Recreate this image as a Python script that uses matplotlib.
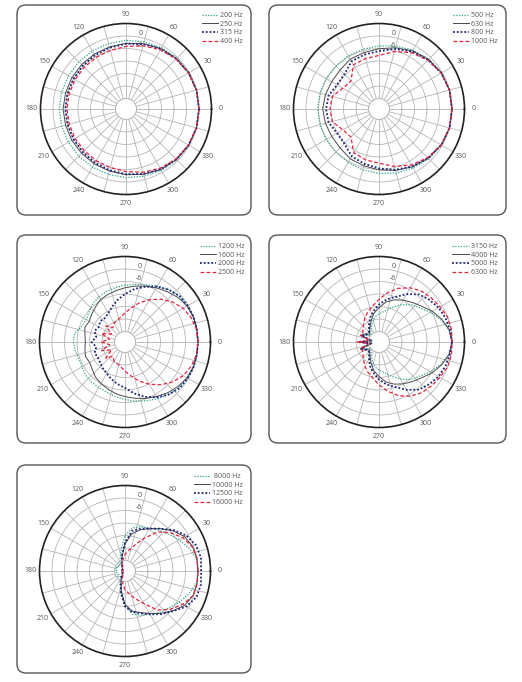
import numpy as np
import matplotlib
matplotlib.use("Agg")
import matplotlib.pyplot as plt
from matplotlib.patches import FancyBboxPatch

plt.rcParams['font.family'] = ['Open Sans', 'DejaVu Sans']

W, H = 522, 682
R = 85.5  # polar radius in px

# --- DATA (dB, normalised to 0 dB on axis) ---
ANGLES_15 = list(range(0, 360, 15))
ANGLES_10 = list(range(0, 360, 10))

# panel 1
P1_LABELS = ["200 Hz", "250 Hz", "315 Hz", "400 Hz"]
P1_200 = [0, 0, -0.2, -0.5, -1.0, -1.6, -2.1, -2.5, -2.8, -3.0, -3.1, -3.1,
          -3.0, -3.1, -3.1, -3.0, -2.8, -2.5, -2.1, -1.6, -1.0, -0.5, -0.2, 0]
P1_250 = [0, 0, -0.3, -0.8, -1.5, -2.6, -3.5, -4.2, -4.6, -4.9, -5.0, -5.0,
          -4.8, -5.0, -5.0, -4.9, -4.6, -4.2, -3.5, -2.6, -1.5, -0.8, -0.3, 0]
P1_315 = [0, 0, -0.3, -0.9, -1.7, -2.8, -3.7, -4.6, -5.2, -5.7, -6.0, -6.0,
          -5.9, -6.0, -6.0, -5.7, -5.2, -4.6, -3.7, -2.8, -1.7, -0.9, -0.3, 0]
P1_400 = [0, 0, -0.4, -1.1, -2.2, -3.6, -5.0, -5.9, -6.4, -6.7, -6.8, -6.8,
          -6.7, -6.8, -6.8, -6.7, -6.4, -5.9, -5.0, -3.6, -2.2, -1.1, -0.4, 0]

# panel 2
P2_LABELS = ["500 Hz", "630 Hz", "800 Hz", "1000 Hz"]
P2_500 = [0, 0, -0.3, -1.2, -2.4, -3.8, -4.8, -5.3, -5.6, -5.8, -5.8, -5.7,
          -5.6, -5.7, -5.8, -5.7, -5.4, -4.8, -4.1, -3.2, -2.3, -1.3, -0.4, 0]
P2_630 = [0, 0, -0.4, -1.4, -2.8, -4.6, -6.1, -7.0, -7.4, -8.6, -8.8, -8.4,
          -8.0, -8.4, -8.8, -8.6, -7.4, -6.8, -5.8, -4.5, -3.0, -1.6, -0.5, 0]
P2_800 = [0, 0, -0.5, -1.6, -3.2, -5.2, -7.2, -8.0, -8.6, -11.5, -11.8, -10.0,
          -9.6, -10.0, -11.8, -11.5, -8.8, -7.8, -6.5, -4.8, -3.2, -1.7, -0.5, 0]
P2_1000 = [0, 0, -0.6, -1.9, -3.8, -6.5, -9.3, -10.0, -10.5, -16.0, -15.0, -11.8,
           -11.5, -11.8, -15.0, -16.0, -10.8, -9.8, -9.0, -6.5, -4.0, -2.0, -0.6, 0]

# panel 3
P3_LABELS = ["1200 Hz", "1600 Hz", "2000 Hz", "2500 Hz"]
P3_1200 = [0, 0, -0.1, -0.4, -1.0, -2.2, -4.1, -5.8, -7.0, -7.8, -8.5, -9.2,
           -10.0, -11.0, -12.5, -13.5, -13.0, -10.5, -10.2, -10.8, -11.5, -11.2, -10.3, -10.0,
           -9.8, -9.4, -8.4, -7.4, -6.2, -5.0, -3.6, -2.2, -1.1, -0.4, -0.1, 0]
P3_1600 = [0, 0, -0.1, -0.6, -1.8, -3.5, -5.0, -6.5, -7.8, -9.0, -10.0, -10.8,
           -11.5, -13.0, -14.2, -15.2, -14.5, -15.5, -16.0, -15.5, -14.8, -15.4, -14.5, -13.0,
           -12.0, -11.0, -9.8, -8.8, -7.6, -6.2, -4.8, -3.2, -1.8, -0.7, -0.1, 0]
P3_2000 = [0, 0, 0, -0.2, -0.7, -2.3, -4.3, -6.8, -9.2, -12.0, -14.5, -17.0,
           -19.0, -20.0, -19.5, -20.5, -19.5, -21.0, -19.0, -21.0, -19.5, -20.0, -19.5, -18.5,
           -17.5, -16.0, -14.5, -13.0, -10.0, -7.0, -4.4, -2.2, -0.7, -0.2, 0, 0]
P3_2500 = [0, -0.2, -1.2, -2.7, -5.2, -8.2, -11.6, -15.0, -18.5, -21.0, -23.0, -24.0,
           -24.5, -26.0, -23.0, -27.5, -23.0, -27.5, -23.5, -27.5, -23.0, -27.5, -23.0, -26.0,
           -24.5, -24.0, -23.0, -21.0, -18.5, -15.0, -11.6, -8.2, -5.2, -2.7, -1.2, -0.2]

# panel 4
P4_LABELS = ["3150 Hz", "4000 Hz", "5000 Hz", "6300 Hz"]
P4_3150 = [0, -1.0, -3.5, -6.5, -9.5, -11.5, -14.5, -17.5, -20.0, -21.5, -23.0, -25.5,
           -27.5, -29.0, -30.0, -28.5, -26.0, -32.0, -25.5, -32.0, -26.0, -28.5, -30.0, -29.0,
           -27.5, -25.5, -23.0, -21.5, -20.0, -17.5, -14.5, -11.5, -9.5, -6.5, -3.5, -1.0]
P4_4000 = [0, -0.8, -3.0, -5.5, -8.3, -10.2, -11.8, -13.5, -15.5, -18.5, -21.0, -24.0,
           -26.5, -28.0, -29.0, -28.0, -25.5, -31.5, -25.0, -31.5, -25.5, -28.0, -29.0, -28.0,
           -26.5, -24.0, -21.0, -18.5, -15.5, -13.5, -11.8, -10.2, -8.3, -5.5, -3.0, -0.8]
P4_5000 = [0, -0.5, -1.1, -2.0, -3.5, -5.2, -8.5, -12.0, -14.3, -17.0, -20.0, -22.5,
           -25.5, -27.5, -28.5, -27.5, -26.0, -31.0, -25.0, -31.0, -26.0, -27.5, -28.5, -27.5,
           -25.5, -22.5, -20.0, -17.0, -14.3, -12.0, -8.5, -5.2, -3.5, -2.0, -1.1, -0.5]
P4_6300 = [0, 0.3, 0, -1.2, -2.2, -3.2, -5.0, -7.6, -11.0, -14.5, -17.5, -19.5,
           -21.5, -23.5, -25.0, -26.0, -25.5, -30.5, -24.5, -30.5, -25.5, -26.0, -25.0, -23.5,
           -21.5, -19.5, -17.5, -14.5, -11.0, -7.6, -5.0, -3.2, -2.2, -1.2, 0, 0.3]

# panel 5
P5_LABELS = [" 8000 Hz", "10000 Hz", "12500 Hz", "16000 Hz"]
P5_8000 = [0, -0.3, -2.5, -5.0, -7.5, -9.5, -11.3, -12.5, -14.0, -18.0, -24.5, -28.0,
           -30.5, -31.5, -30.5, -31.5, -30.0, -31.0, -30.5, -31.0, -30.0, -31.5, -30.5, -31.5,
           -30.5, -28.0, -25.0, -19.0, -14.0, -12.5, -11.0, -9.0, -7.5, -5.0, -2.5, -0.3]
P5_10000 = [0, 0, -0.5, -2.0, -5.0, -8.5, -11.5, -14.0, -17.0, -22.0, -27.5, -30.5,
            -32.0, -33.0, -33.5, -33.5, -33.5, -33.5, -33.5, -33.5, -33.5, -33.5, -33.5, -33.0,
            -32.0, -29.5, -25.0, -19.0, -15.5, -13.8, -11.5, -8.5, -5.2, -2.0, -0.3, 0]
P5_12500 = [1.5, 2.0, 1.2, -1.0, -4.5, -8.5, -11.5, -13.5, -15.5, -21.5, -27.0, -30.5,
            -32.0, -33.0, -33.5, -33.5, -33.5, -33.5, -33.5, -33.5, -33.5, -33.5, -33.5, -33.0,
            -31.5, -29.0, -24.0, -18.0, -15.0, -13.5, -11.0, -8.0, -5.0, -1.0, 1.5, 2.0]
P5_16000 = [0, 0.1, -0.8, -3.0, -6.5, -10.5, -17.0, -22.0, -25.0, -27.0, -29.5, -31.5,
            -33.0, -34.0, -34.0, -34.0, -34.0, -34.0, -34.0, -34.0, -34.0, -34.0, -34.0, -34.0,
            -33.0, -31.5, -29.0, -26.0, -24.0, -21.0, -17.0, -10.5, -6.5, -3.0, -0.3, 0.2]

RINGS = [-30, -24, -18, -12, -6, 0]
RING_LABELS = ["", "", "", "", "-6", "0"]
THETA_GRID = list(range(0, 360, 15))
THETA_LABELS = [str(a) if a % 30 == 0 else "" for a in THETA_GRID]

STYLES = [
    dict(color="#2fa38f", lw=0.9, ls=(0, (1, 1.2))),
    dict(color="#4a4a4a", lw=0.7, ls="-"),
    dict(color="#1c2378", lw=1.3, ls=(0, (1, 1.1))),
    dict(color="#e5223c", lw=0.9, ls=(0, (3, 1.8))),
]

# boxes in px: x0, y0, x1, y1
BOXES = [(17, 5, 251, 215), (269, 5, 506, 215),
         (17, 235, 251, 443), (269, 235, 506, 443),
         (17, 465, 251, 673)]

PANELS = [
    ((126, 109), ANGLES_15, [P1_200, P1_250, P1_315, P1_400], P1_LABELS, (243, 12)),
    ((379, 109), ANGLES_15, [P2_500, P2_630, P2_800, P2_1000], P2_LABELS, (498, 12)),
    ((125, 342), ANGLES_10, [P3_1200, P3_1600, P3_2000, P3_2500], P3_LABELS, (245, 243)),
    ((379, 342), ANGLES_10, [P4_3150, P4_4000, P4_5000, P4_6300], P4_LABELS, (498, 243)),
    ((125, 571), ANGLES_10, [P5_8000, P5_10000, P5_12500, P5_16000], P5_LABELS, (243, 473)),
]

fig = plt.figure(figsize=(W / 100, H / 100), dpi=100)

bg = fig.add_axes([0, 0, 1, 1])
bg.set_xlim(0, W)
bg.set_ylim(H, 0)
bg.axis("off")
for x0, y0, x1, y1 in BOXES:
    bg.add_patch(FancyBboxPatch((x0, y0), x1 - x0, y1 - y0,
                                boxstyle="round,pad=0,rounding_size=9",
                                fc="white", ec="#555555", lw=1.0))

for (cx, cy), angles, series, labels, (lx, ly) in PANELS:
    ax = fig.add_axes([(cx - R) / W, 1 - (cy + R) / H, 2 * R / W, 2 * R / H],
                      projection="polar")
    ax.set_ylim(-30, 6)
    ax.set_rorigin(-35)
    ax.set_yticks(RINGS)
    ax.set_yticklabels(RING_LABELS)
    ax.set_rlabel_position(80)
    ax.set_thetagrids(THETA_GRID, THETA_LABELS)
    ax.grid(True, color="#b5b5b5", lw=0.6)
    ax.tick_params(axis="both", labelsize=5, labelcolor="#555555")
    ax.tick_params(axis="x", pad=-4)
    ax.spines["polar"].set_color("#222222")
    ax.spines["polar"].set_linewidth(1.2)
    ax.spines["inner"].set_color("#b5b5b5")
    ax.spines["inner"].set_linewidth(0.6)

    # curves may dip inside the inner hole, so don't clip them to the annulus
    th = np.deg2rad(angles + [360])
    for vals, lab, st in zip(series, labels, STYLES):
        ax.plot(th, vals + [vals[0]], label=lab, clip_on=False, **st)

    ax.legend(loc="upper right", bbox_to_anchor=(lx / W, 1 - ly / H),
              bbox_transform=fig.transFigure, frameon=False, fontsize=5,
              labelcolor="#555555", handlelength=2.4, handletextpad=0.3,
              labelspacing=0.25, borderpad=0, borderaxespad=0)

fig.savefig("out.png", dpi=100, facecolor="white")
